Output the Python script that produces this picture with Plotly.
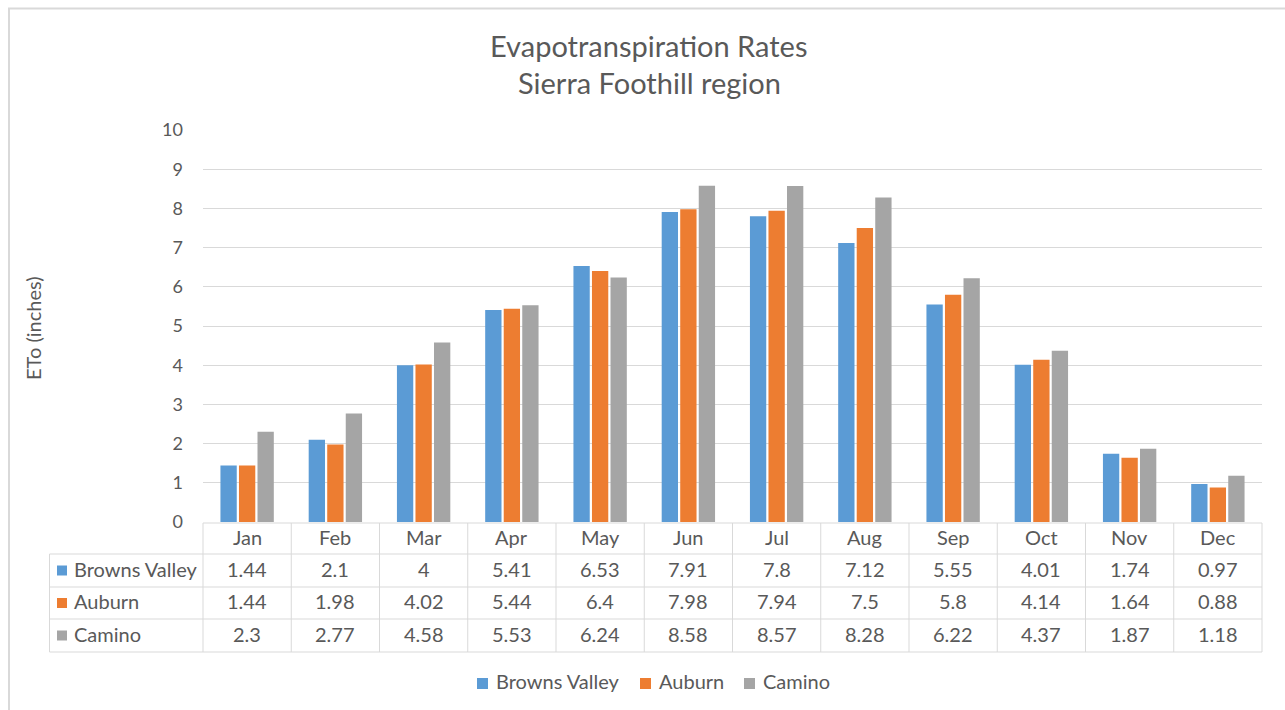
import plotly.graph_objects as go

# Monthly reference evapotranspiration (ETo, inches)
months = ["Jan", "Feb", "Mar", "Apr", "May", "Jun", "Jul", "Aug", "Sep", "Oct", "Nov", "Dec"]
browns_valley = [1.44, 2.1, 4, 5.41, 6.53, 7.91, 7.8, 7.12, 5.55, 4.01, 1.74, 0.97]
auburn = [1.44, 1.98, 4.02, 5.44, 6.4, 7.98, 7.94, 7.5, 5.8, 4.14, 1.64, 0.88]
camino = [2.3, 2.77, 4.58, 5.53, 6.24, 8.58, 8.57, 8.28, 6.22, 4.37, 1.87, 1.18]

series = [
    ("Browns Valley", browns_valley, "#5B9BD5"),
    ("Auburn", auburn, "#ED7D31"),
    ("Camino", camino, "#A5A5A5"),
]

W, H = 1285, 710
L, R, T, B = 203, 1262, 130, 522  # plot area in pixels
FONT = "Lato, Calibri, sans-serif"
TXT = "#595959"
GRID = "#D9D9D9"


def px(x):
    return (x - L) / (R - L)


def py(y):
    return (B - y) / (B - T)


fig = go.Figure()
for name, vals, col in series:
    fig.add_trace(go.Bar(x=months, y=vals, name=name, showlegend=False,
                         marker=dict(color=col, line=dict(width=0))))

shapes = []
annotations = []


def hline(y, x0, x1):
    shapes.append(dict(type="line", xref="paper", yref="paper", x0=px(x0), x1=px(x1),
                       y0=py(y), y1=py(y), line=dict(color=GRID, width=1)))


def vline(x, y0, y1):
    shapes.append(dict(type="line", xref="paper", yref="paper", x0=px(x), x1=px(x),
                       y0=py(y0), y1=py(y1), line=dict(color=GRID, width=1)))


def label(text, x, y, size, xref="paper", xanchor="center"):
    annotations.append(dict(x=x, xref=xref, y=py(y), yref="paper", text=text, showarrow=False,
                            xanchor=xanchor, yanchor="middle",
                            font=dict(family=FONT, size=size, color=TXT)))


def swatch(x0, yc, color, size):
    shapes.append(dict(type="rect", xref="paper", yref="paper", x0=px(x0), x1=px(x0 + size),
                       y0=py(yc + size / 2), y1=py(yc - size / 2), fillcolor=color,
                       line=dict(width=0)))


# outer chart border
shapes.append(dict(type="rect", xref="paper", yref="paper", x0=px(9), x1=px(W + 20),
                   y0=py(H + 20), y1=py(8.5), line=dict(color="#D9D9D9", width=2),
                   fillcolor="rgba(0,0,0,0)", layer="below"))

# data table grid
tab_left, hdr_top = 49.5, 523
row_y = [554, 587, 619, 652]
hline(hdr_top, L, R)
for y in row_y:
    hline(y, tab_left, R)
for i in range(len(months) + 1):
    vline(L + (R - L) * i / len(months), hdr_top, row_y[-1])
vline(tab_left, row_y[0], row_y[-1])

# month header row
for m in months:
    label(m, m, 536.5, 20, xref="x")

# series rows
row_centers = [570.5, 603, 635.5]
for (name, vals, col), yc in zip(series, row_centers):
    swatch(57, yc, col, 10)
    label(name, px(72), yc - 2, 20, xanchor="left")
    for m, v in zip(months, vals):
        label(f"{v:g}", m, yc - 2, 20, xref="x")

# legend below the table
legend_pos = [(477, 494), (640, 657), (744, 761)]
for (name, _, col), (sx, tx) in zip(series, legend_pos):
    swatch(sx, 683.5, col, 11)
    label(name, px(tx), 680.5, 20, xanchor="left")

# title lines
label("Evapotranspiration Rates", px(649), 45, 29)
label("Sierra Foothill region", px(649), 83, 29)

# y-axis title
annotations.append(dict(x=px(33), xref="paper", y=py(328), yref="paper", text="ETo (inches)",
                        textangle=-90, showarrow=False, xanchor="center", yanchor="middle",
                        font=dict(family=FONT, size=20, color=TXT)))

fig.update_layout(
    width=W, height=H,
    margin=dict(l=L, r=W - R, t=T, b=H - B, pad=0),
    paper_bgcolor="white", plot_bgcolor="white",
    barmode="group", bargap=0.37, bargroupgap=0.12,
    showlegend=False,
    shapes=shapes, annotations=annotations,
)
fig.update_xaxes(range=[-0.5, 11.5], showticklabels=False, showgrid=False, zeroline=False,
                 showline=False, ticks="")
fig.update_yaxes(range=[0, 10], dtick=1, showgrid=True, gridcolor=GRID, gridwidth=1,
                 zeroline=False, showline=False, ticks="", ticklabelstandoff=19,
                 tickfont=dict(family=FONT, size=18, color=TXT))

fig.write_html("out.html")
